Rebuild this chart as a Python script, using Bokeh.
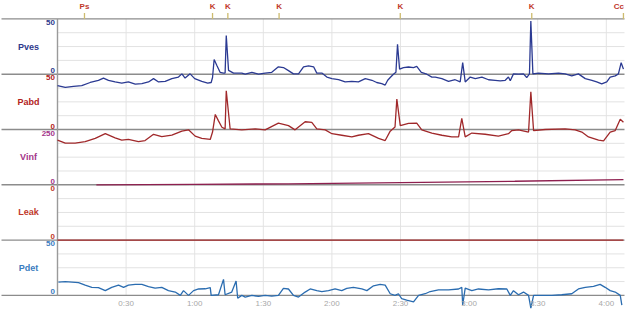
from bokeh.plotting import figure
from bokeh.models import Range1d, ColumnDataSource
from bokeh.embed import file_html
from bokeh.resources import INLINE
from bokeh.core.properties import value

# ---------------- data ----------------
event_names = ["Ps", "K", "K", "K", "K", "K", "Cc"]
event_times = [11.8, 67.8, 74.5, 96.9, 149.9, 207.4, 247.5]

time_tick_seconds = [30, 60, 90, 120, 150, 180, 210, 240]
time_tick_labels = ["0:30", "1:00", "1:30", "2:00", "2:30", "3:00", "3:30", "4:00"]

track_names = ["Pves", "Pabd", "Vinf", "Leak", "Pdet"]
track_top_values = [50, 50, 250, 50, 50]
track_top_labels = ["50", "50", "250", "0", "50"]
track_zero_labels = ["0", "0", "0", "0", "0"]

pves_t = [0, 3.4, 7.0, 10.6, 14.3, 17.9, 20.1, 22.3, 25.2, 28.1,
          31.0, 34.0, 36.9, 39.8, 42.0, 44.2, 47.1, 50.0, 52.9, 54.4,
          55.8, 58.0, 60.0, 63.1, 65.7, 67.2, 67.8, 68.5, 69.7, 71.1,
          72.6, 73.3, 73.8, 74.8, 77.0, 80.6, 82.1, 85.0, 87.9, 90.8,
          93.7, 96.6, 98.8, 101.0, 103.2, 105.4, 107.6, 109.8, 112.0, 113.4,
          115.6, 117.8, 120.0, 122.9, 125.8, 128.7, 131.6, 134.6, 137.5, 139.6,
          141.8, 143.3, 144.4, 145.5, 146.9, 148.0, 148.7, 149.6, 151.3, 153.5,
          155.7, 157.1, 159.1, 161.5, 163.7, 165.2, 168.1, 171.0, 173.9, 176.1,
          177.2, 178.3, 180.5, 182.7, 185.6, 188.5, 191.4, 193.6, 195.8, 197.2,
          198.0, 199.4, 201.6, 203.8, 205.2, 206.4, 207.0, 207.9, 210.3, 214.7,
          219.1, 222.0, 224.9, 227.8, 230.8, 233.7, 235.8, 238.0, 240.2, 241.7,
          243.9, 245.3, 246.5, 247.5]
pves_v = [-10.4, -12, -11, -10.4, -7.5, -5.5, -3.5, -5.5, -7, -8,
          -7, -9, -8.5, -7, -4, -7, -6.5, -4, -2.6, 0.3,
          -3.5, 0.3, -4, -6.5, -8, -7.5, -3, 13.3, 7.8, 1.7,
          1, 1, 35, 3.5, 1, 1, 0, 1.7, 0, 1,
          1.7, 6.7, 6, 3.2, 0.3, 0.3, 6.7, 7.5, 6.7, 1,
          1, -2.6, -4, -5, -7, -6.5, -7, -4, -5.5, -7.5,
          -8.5, -9.8, -5.5, -3, 0, 1.7, 27, 4.6, 6, 6.5,
          6, 7, 1.7, 0, -2.6, -2.6, -4, -6.5, -5, -7,
          10.4, -7, -2.6, -4, -2.6, -5, -5.5, -6, -5.5, -2.6,
          -6, 0.3, 0, 0.3, -3, 0.3, 48, 0.3, 1, 0.3,
          1, 0.3, -1.5, 0.3, -4, -5.5, -7, -8.8, -7, -2.6,
          -1.5, 0.3, 10.4, 4.6]

pabd_t = [0, 3.4, 7.7, 12.1, 16.5, 20.9, 25.2, 28.1, 31.0, 35.4,
          38.3, 42.0, 45.6, 50.0, 54.4, 57.3, 60.2, 63.1, 66.8, 67.8,
          69.0, 70.4, 71.9, 73.3, 73.8, 75.5, 80.6, 86.5, 90.8, 96.6,
          101.0, 103.9, 108.3, 111.2, 113.4, 117.1, 120.0, 124.3, 128.7, 131.6,
          136.0, 140.4, 143.3, 145.5, 147.6, 148.4, 149.9, 153.5, 157.1, 159.3,
          163.7, 168.1, 172.4, 175.4, 176.8, 178.3, 181.2, 187.0, 192.8, 197.2,
          198.7, 201.6, 206.0, 207.0, 208.2, 213.3, 222.0, 226.4, 229.3, 232.2,
          236.6, 238.8, 241.7, 243.9, 246.1, 247.5]
pabd_v = [-9.6, -12.4, -12.4, -11, -8, -3.8, -7.5, -9.6, -9, -11,
          -10, -4.3, -6.5, -5, -1.4, -0.3, -6, -8, -9, -2.3,
          13.6, 7.8, 2, 0.5, 35, 0.5, -0.3, 0.5, -0.3, 5.8,
          3.5, -0.3, 7, 6.5, 0.5, -0.3, -3.8, -5.2, -6.7, -5.2,
          -3.8, -8, -10, -1.5, 2.3, 27.5, 3.5, 5.5, 5.8, -0.3,
          -3.2, -5.2, -6.7, -6.7, 10, -6.7, -3.2, -4.3, -6, -3.8,
          -1, -0.3, -2.3, 34, -1, 0, 0.5, -0.3, -2.3, -6.7,
          -9.6, -10.2, -2.3, -1, 9.3, 6.5]

vinf_t = [17, 60, 101, 150, 200, 247.5]
vinf_v = [0, 2, 4.4, 10, 16, 23]

leak_t = [0, 247.5]
leak_v = [0, 0]

pdet_t = [0.4, 3.4, 6.3, 9.2, 12.1, 15.0, 17.9, 20.9, 23.7, 26.7,
          28.9, 31.0, 34.0, 36.9, 39.8, 42.7, 45.6, 48.5, 51.5, 53.7,
          55.1, 57.3, 59.5, 61.7, 64.6, 66.8, 67.2, 70.4, 72.6, 73.3,
          76.2, 78.1, 78.8, 80.6, 82.1, 85.0, 87.9, 90.8, 93.7, 96.6,
          98.8, 101.0, 103.2, 105.4, 108.3, 110.5, 113.4, 115.6, 118.5, 121.4,
          124.3, 126.5, 129.4, 133.1, 135.3, 138.2, 141.1, 143.3, 145.5, 147.6,
          149.1, 150.5, 152.7, 155.7, 157.9, 160.8, 163.0, 166.6, 171.0, 175.4,
          176.8, 177.2, 178.3, 181.2, 184.1, 188.5, 192.8, 196.5, 198.0, 199.4,
          201.6, 203.8, 206.0, 207.0, 208.2, 211.8, 216.2, 220.5, 224.9, 227.8,
          230.8, 234.4, 237.3, 239.5, 241.7, 243.9, 246.1, 246.8]
pdet_v = [12, 12.5, 12, 11.5, 9.3, 7.3, 7, 4.3, 7.3, 9.3,
          7.3, 9.3, 10, 10, 8, 6.5, 7.3, 4.3, 3, 0,
          4.3, 0, 4.3, 5.8, 6, 7, 0, 0.6, 14.5, 0.6,
          3, 13, -2.6, 0, -1.5, 0, -0.9, 0, -0.6, 0,
          6.3, 5.8, 0, -1.5, 3, 5.8, 4.3, 3.5, 4.3, 5.8,
          4.3, 6.3, 7.3, 5.8, 4.3, 8.7, 10, 9.3, 1.5, 0,
          1.5, -2.9, -4.3, -5.8, 0, 1.5, 3.5, 5, 5, 5.8,
          7.3, -8.7, 6.5, 4.3, 5.8, 5, 6, 5.8, 0, 4.3,
          0.6, 3, 0, -11.6, 0, 0, 0, 0.6, 1.5, 5.8,
          7.3, 8.2, 10, 7.3, 4.3, 3, 0, -8.7]

# ---------------- styles / layout ----------------
W, H = 625, 310
TOP = 18.4            # px from top of figure: line under event markers
TRACK_H = 55.3        # px per track
PX_PER_S = 68.6 / 30  # horizontal scale
T0_PX = 57            # px position of t = 0
FONT = value("Liberation Sans")

label_colors = ["#2e3a8c", "#b22222", "#a3358a", "#c0392b", "#3a7cc0"]
line_colors = ["#2b3a92", "#a0282a", "#8e1f4f", "#a52a2a", "#2a6cb0"]
series = [(pves_t, pves_v), (pabd_t, pabd_v), (vinf_t, vinf_v), (leak_t, leak_v), (pdet_t, pdet_v)]


def px_to_t(px):
    return (px - T0_PX) / PX_PER_S


x_start = px_to_t(0)
x_end = px_to_t(W)
t_right = px_to_t(624)

p = figure(width=W, height=H, x_range=Range1d(x_start, x_end), y_range=Range1d(H, 0),
           x_axis_type=None, y_axis_type=None, toolbar_location=None,
           output_backend="svg", min_border=0, outline_line_color=None,
           background_fill_color="white", border_fill_color="white")
p.grid.visible = False

zeros = [TOP + (k + 1) * TRACK_H for k in range(len(track_names))]
tops = [TOP + k * TRACK_H for k in range(len(track_names))]

# per-track value ranges
for k, name in enumerate(track_names):
    ppu = (zeros[k] - tops[k]) / track_top_values[k]
    p.extra_y_ranges[name] = Range1d(start=-(H - zeros[k]) / ppu, end=zeros[k] / ppu)

# vertical time gridlines
p.segment(x0=time_tick_seconds, x1=time_tick_seconds,
          y0=[TOP] * len(time_tick_seconds), y1=[zeros[-1]] * len(time_tick_seconds),
          line_color="#e4e4e4", line_width=1)

# horizontal gridlines in each track
for k, name in enumerate(track_names):
    vmax = track_top_values[k]
    vals = [vmax * i / 4 for i in (1, 2, 3)]
    p.segment(x0=[0] * 3, x1=[t_right] * 3, y0=vals, y1=vals,
              y_range_name=name, line_color="#e2e2e2", line_width=1)

# separators
sep_y = [TOP] + zeros
p.segment(x0=[px_to_t(1)] * len(sep_y), x1=[t_right] * len(sep_y), y0=sep_y, y1=sep_y,
          line_color="#8c8c8c", line_width=1.4)
# left axis line
p.segment(x0=[0], x1=[0], y0=[TOP], y1=[zeros[-1]], line_color="#9a9a9a", line_width=1.4)

# event markers
p.segment(x0=event_times, x1=event_times, y0=[12.6] * len(event_times), y1=[TOP] * len(event_times),
          line_color="#cdbb6e", line_width=1.3)
n_ev = len(event_times)
ev_src = ColumnDataSource(dict(
    x=event_times, y=[5.5] * n_ev, text=event_names,
    align=["center"] * (n_ev - 1) + ["right"],
    xoff=[0] * (n_ev - 1) + [0.5],
))
p.text(x="x", y="y", text="text", source=ev_src, text_align="align", x_offset="xoff",
       text_font=FONT, text_font_size="8px", text_font_style="bold",
       text_color="#c0392b", text_baseline="middle")

# traces
for k, name in enumerate(track_names):
    t, v = series[k]
    p.line(t, v, y_range_name=name, line_color=line_colors[k], line_width=1.3)

# track labels
for k, name in enumerate(track_names):
    p.text(x=[px_to_t(28)], y=[(tops[k] + zeros[k]) / 2], text=[name],
           text_font=FONT, text_font_size="9px", text_font_style="bold",
           text_color=label_colors[k], text_align="center", text_baseline="middle")
    p.text(x=[px_to_t(54.5)], y=[track_top_values[k]], text=[track_top_labels[k]],
           y_range_name=name, y_offset=1,
           text_font=FONT, text_font_size="8px", text_font_style="bold",
           text_color=label_colors[k], text_align="right", text_baseline="top")
    p.text(x=[px_to_t(54.5)], y=[0], text=[track_zero_labels[k]],
           y_range_name=name, y_offset=-1,
           text_font=FONT, text_font_size="8px", text_font_style="bold",
           text_color=label_colors[k], text_align="right", text_baseline="bottom")

# time labels
p.text(x=time_tick_seconds, y=[302.5] * len(time_tick_seconds), text=time_tick_labels,
       text_font=FONT, text_font_size="8px", text_color="#a8a8a8",
       text_align="center", text_baseline="middle")

open("out.html", "w").write(file_html(p, INLINE))
